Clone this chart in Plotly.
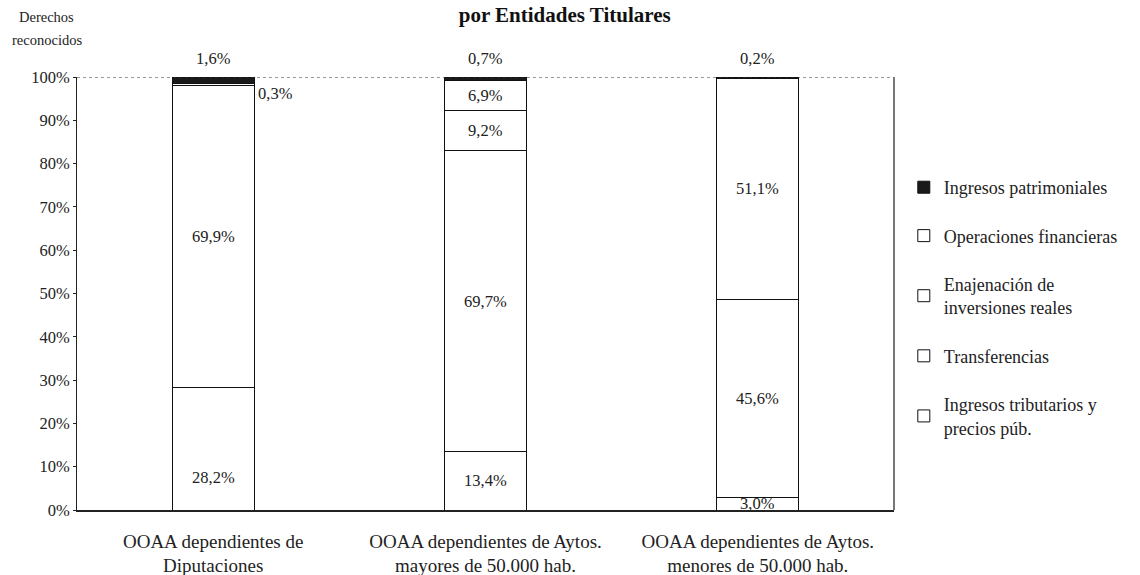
import plotly.graph_objects as go

# Categories (entities) and the share of each revenue chapter, in %
categories = [
    "OOAA dependientes de<br>Diputaciones",
    "OOAA dependientes de Aytos.<br>mayores de 50.000 hab.",
    "OOAA dependientes de Aytos.<br>menores de 50.000 hab.",
]
tributarios = [28.2, 13.4, 3.0]
transferencias = [69.9, 69.7, 45.6]
enajenacion = [0.0, 9.2, 51.1]
operaciones = [0.3, 6.9, 0.0]
patrimoniales = [1.6, 0.7, 0.2]

# stacked bottom-up; legend lists them top-down
series = [
    ("Ingresos tributarios y<br>precios púb.", tributarios, "white"),
    ("Transferencias", transferencias, "white"),
    ("Enajenación de<br>inversiones reales", enajenacion, "white"),
    ("Operaciones financieras", operaciones, "white"),
    ("Ingresos patrimoniales", patrimoniales, "#1a1a1a"),
]

FONT = "Liberation Serif"
INK = "#222222"
BAR_W = 0.3

fig = go.Figure()
n_series = len(series)
for k, (name, vals, color) in enumerate(series):
    fig.add_trace(go.Bar(
        x=list(range(len(categories))), y=vals, name=name, width=BAR_W,
        marker=dict(color=color, line=dict(color="#111111", width=1)),
        legendgroup=name, legendrank=n_series - k, hoverinfo="skip",
    ))


def fmt(v):
    return f"{v:.1f}".replace(".", ",") + "%"


annotations = []
for i in range(len(categories)):
    base = 0.0
    for k, (name, vals, color) in enumerate(series):
        v = vals[i]
        top = base + v
        if v > 0:
            if k == 0:
                # bottom segment label kept near the baseline
                annotations.append(dict(x=i, y=min(v / 2, 7.5), text=fmt(v),
                                        showarrow=False, yanchor="middle"))
            elif k == n_series - 1:
                # thin top band: label above the bar
                annotations.append(dict(x=i, y=100, text=fmt(v), showarrow=False,
                                        yanchor="bottom", yshift=7))
            elif v < 2:
                # very thin segment: label beside the bar
                annotations.append(dict(x=i + BAR_W / 2, y=top, text=fmt(v),
                                        showarrow=False, xanchor="left",
                                        yanchor="top", xshift=2, yshift=2))
            else:
                annotations.append(dict(x=i, y=base + v / 2, text=fmt(v),
                                        showarrow=False, yanchor="middle"))
        base = top

for a in annotations:
    a["font"] = dict(family=FONT, size=16.5, color=INK)

# axis caption (two lines) in the top-left corner
for txt, ypx in (("Derechos", 17), ("reconocidos", 40)):
    annotations.append(dict(xref="paper", yref="paper", x=-0.037,
                            y=1 + (77 - ypx) / 433, text=txt, showarrow=False,
                            xanchor="center", yanchor="middle",
                            font=dict(family=FONT, size=14.5, color=INK)))

fig.update_layout(
    width=1140, height=575,
    margin=dict(l=77, r=246, t=77, b=65),
    paper_bgcolor="white", plot_bgcolor="white",
    barmode="stack",
    font=dict(family=FONT, size=16, color=INK),
    title=dict(text="<b>por Entidades Titulares</b>", x=0.597, xanchor="center",
               xref="paper", y=0.974, yanchor="middle",
               font=dict(family=FONT, size=21, color="#111111")),
    showlegend=True,
    legend=dict(x=1.012, xanchor="left", y=0.7875, yanchor="top",
                traceorder="grouped", tracegroupgap=22,
                font=dict(family=FONT, size=18, color=INK),
                bgcolor="rgba(0,0,0,0)"),
    annotations=annotations,
    shapes=[
        dict(type="line", xref="paper", yref="y", x0=0, x1=1, y0=100, y1=100,
             line=dict(color="#333333", width=1, dash="dot")),
        dict(type="line", xref="paper", yref="paper", x0=1, x1=1, y0=0, y1=1,
             line=dict(color="#777777", width=2)),
    ],
)

fig.update_xaxes(
    range=[-0.5, len(categories) - 0.5],
    tickvals=list(range(len(categories))), ticktext=categories,
    showline=True, linecolor=INK, linewidth=1.5,
    ticks="", showgrid=False, zeroline=False,
    automargin=False, ticklabelstandoff=13,
    tickfont=dict(family=FONT, size=19, color=INK),
)
fig.update_yaxes(
    range=[0, 100], dtick=10, ticksuffix="%",
    showline=True, linecolor=INK, linewidth=1,
    ticks="outside", ticklen=3, tickcolor=INK,
    showgrid=False, zeroline=False, automargin=False,
    tickfont=dict(family=FONT, size=16.5, color=INK),
)

fig.write_html("out.html")
